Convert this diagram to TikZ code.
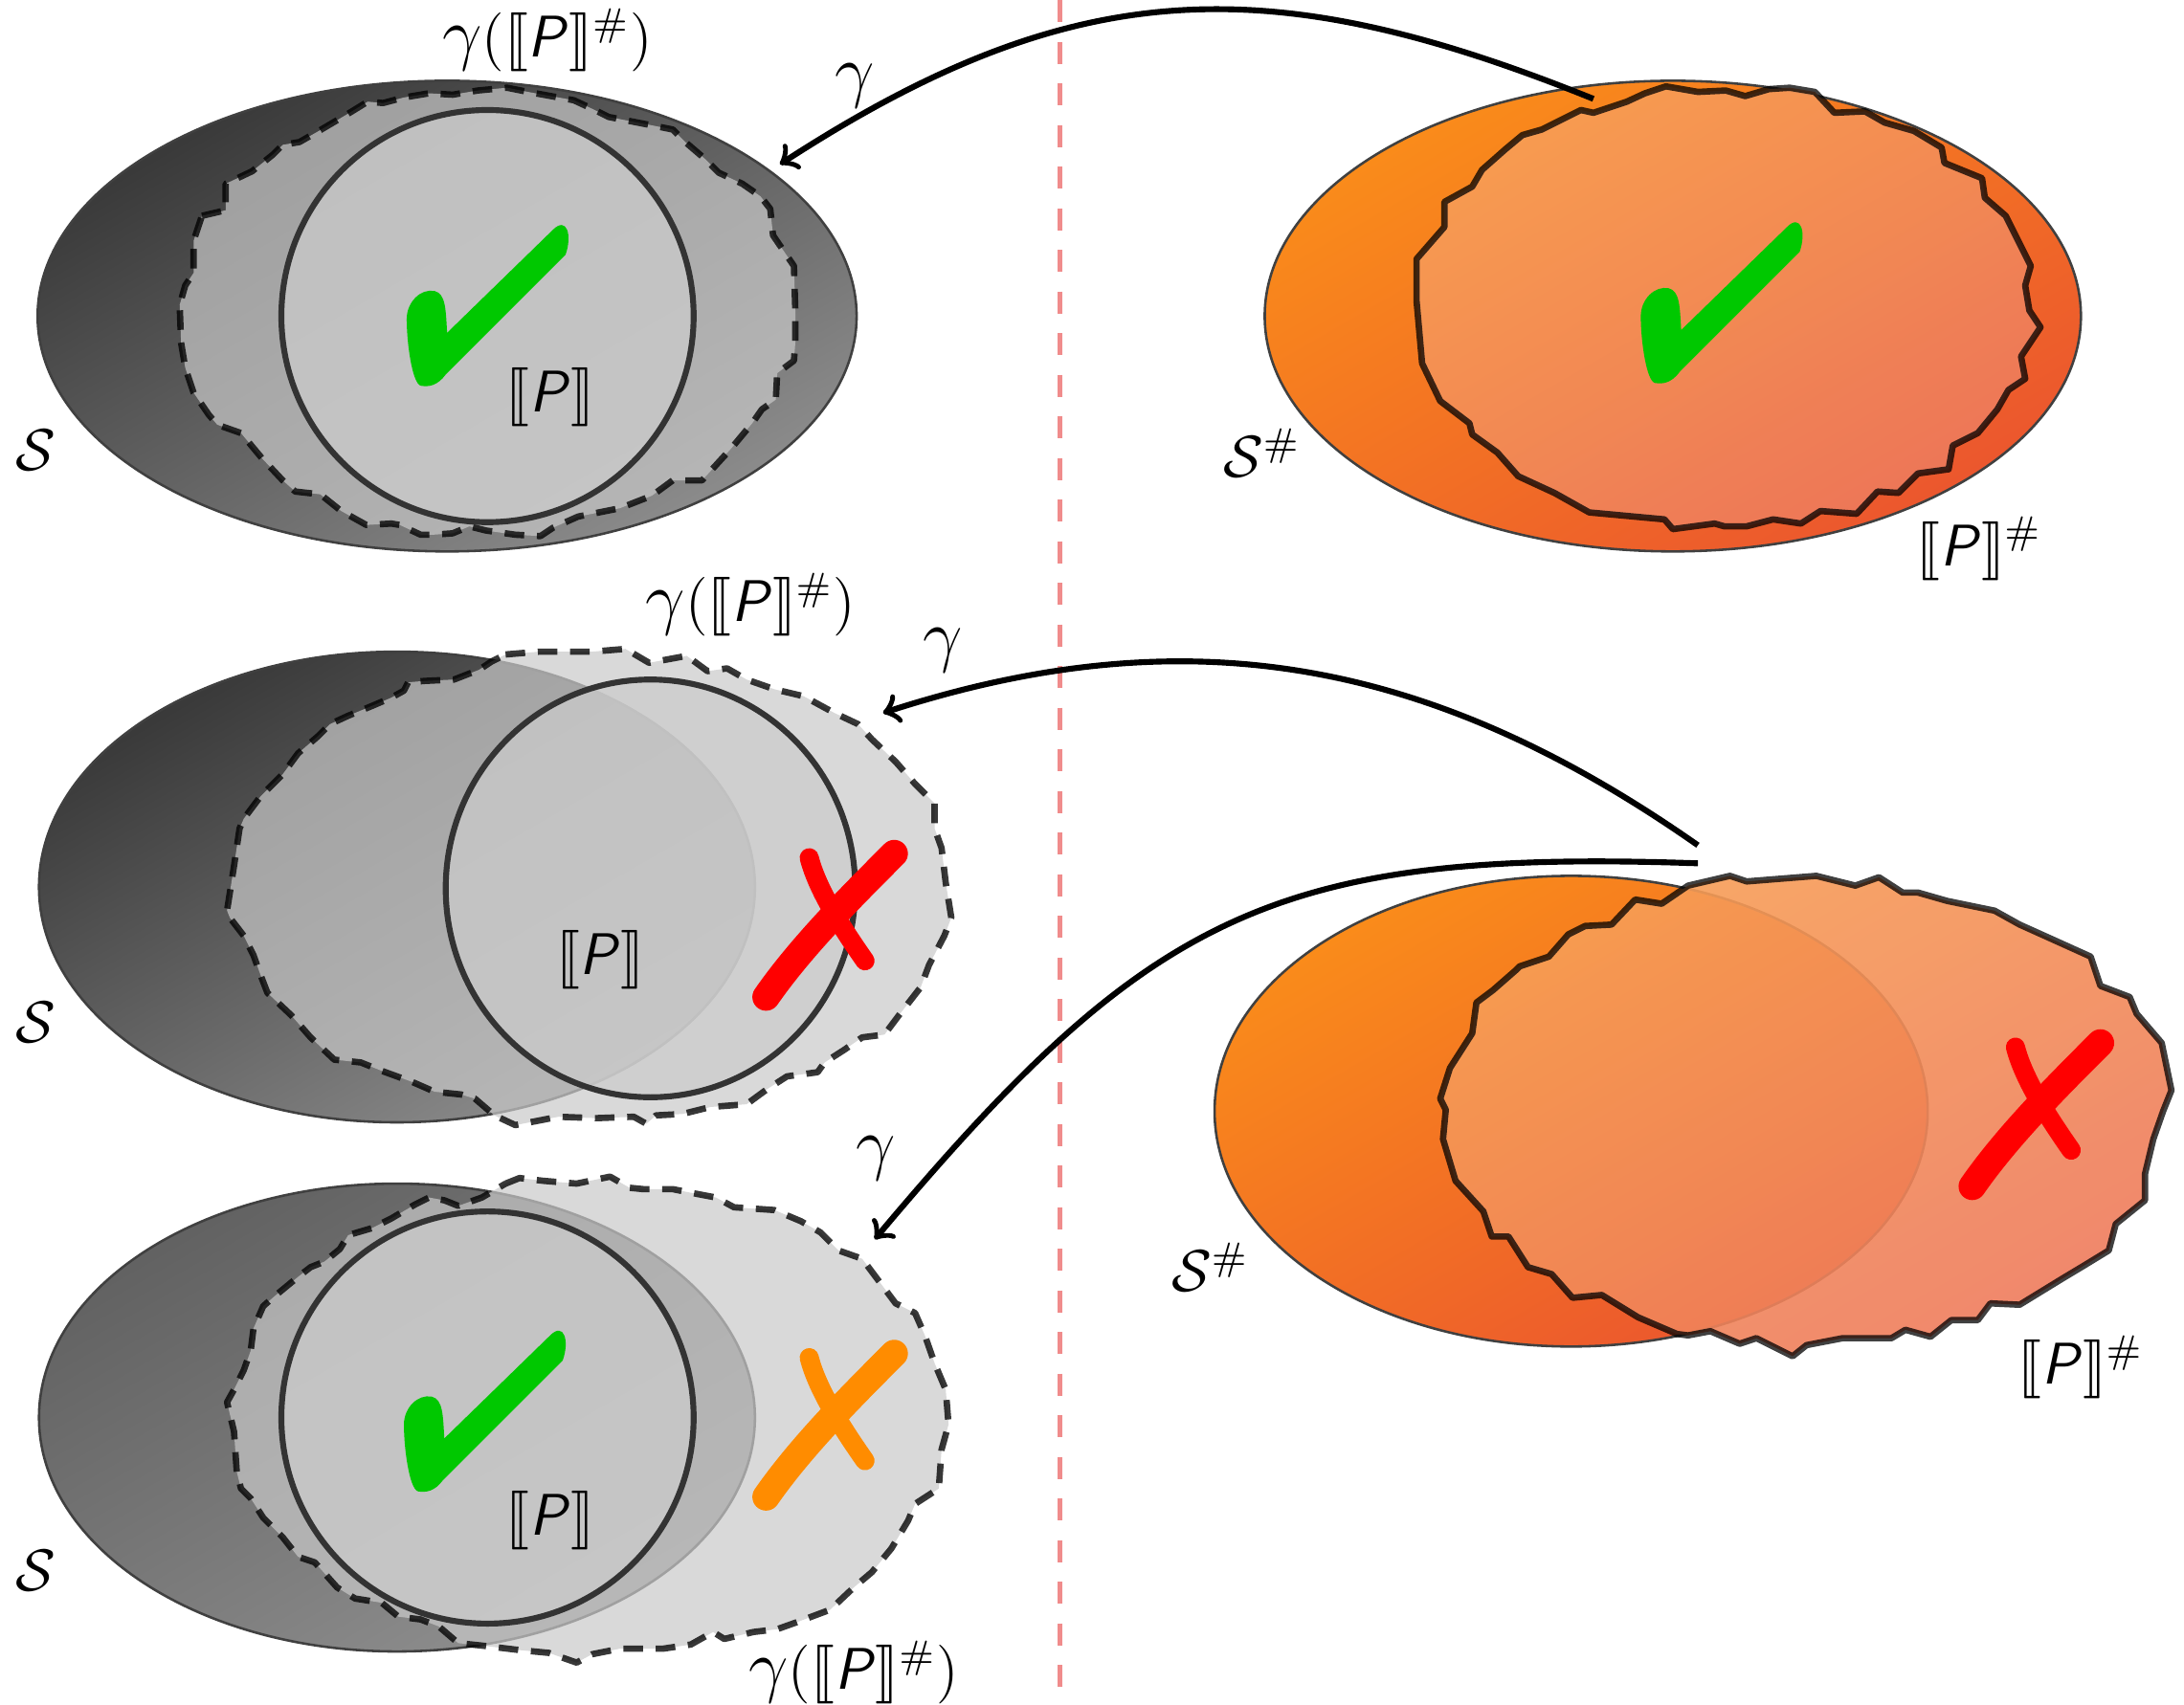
\documentclass[tikz,border=0pt]{standalone}
\usepackage{amsmath,amssymb}
\usepackage{stmaryrd}

\definecolor{tickgreen}{RGB}{0,200,0}
\definecolor{crossred}{RGB}{255,0,0}
\definecolor{crossorange}{RGB}{255,140,0}
\definecolor{absdark}{RGB}{250,140,26}
\definecolor{absred}{RGB}{235,86,46}
\definecolor{semlight}{RGB}{247,158,86}
\definecolor{semred}{RGB}{238,122,92}
\definecolor{divred}{RGB}{240,140,140}

\newcommand{\sem}[1]{\llbracket\textsf{\textit{#1}}\rrbracket}
\newcommand{\gam}{\text{\Large$\gamma$}}

\tikzset{
  concrete/.style={draw=black!75, line width=0.5pt, top color=black!78, bottom color=black!45, shading angle=30},
  abstract/.style={draw=black!75, line width=0.5pt, top color=absdark, bottom color=absred, shading angle=30},
  gammaset/.style={draw=black, draw opacity=0.78, fill=black!21, fill opacity=0.7, line width=1.3pt, dash pattern=on 4pt off 2.6pt, line join=round},
  semset/.style={draw=black!80, line width=1.2pt, fill=black!20, fill opacity=0.73},
  abssem/.style={draw=black, draw opacity=0.75, line width=1.3pt, top color=semlight, bottom color=semred, shading angle=30, fill opacity=0.9, line join=round},
  gammaarrow/.style={->, line width=1.2pt},
  divider/.style={divred, line width=1pt, dash pattern=on 4.5pt off 4pt},
  lbl/.style={font=\large, inner sep=0pt},
  okmark/.pic={
    \fill[tickgreen] (0,0) .. controls (-6,-2) and (-10,-30) .. (-10,-48)
      .. controls (-10,-60) and (0,-70) .. (10,-68)
      .. controls (18,-66) and (18,-55) .. (19,-38)
      -- (95,-112)
      .. controls (105,-122) and (109,-108) .. (104,-94)
      -- (18,-8)
      .. controls (12,0) and (6,1) .. cycle;
  },
  badmark/.pic={
    \draw[#1, line width=5.6pt, line cap=round] (-49,66) .. controls (-24,30) and (12,-6) .. (43,-37);
    \draw[#1, line width=3.9pt, line cap=round] (-18,-34) .. controls (-12,-10) and (8,20) .. (22,40);
  }
}

\begin{document}
\begin{tikzpicture}[x=0.01cm, y=-0.01cm]
\useasboundingbox (0,0) rectangle (1568,1224);

% concrete side | abstract side
\draw[divider] (761,0) -- (761,1224);

%%% top row
\draw[concrete] (321,227) ellipse (294 and 169);
\draw[gammaset] (145,155) -- (162,151) -- (162,132) -- (181,123) -- (196,111) -- (203,104) -- (215,102) -- (229,94)
  -- (251,81) -- (264,73) -- (275,74) -- (290,70) -- (308,67) -- (325,68) -- (343,65) -- (364,63) -- (379,66)
  -- (412,72) -- (427,79) -- (437,84) -- (468,90) -- (483,93) -- (492,102) -- (506,114) -- (516,124) -- (533,132)
  -- (546,141) -- (553,150) -- (555,169) -- (570,191) -- (571,223) -- (571,246) -- (570,259) -- (558,268)
  -- (557,287) -- (547,294) -- (540,304) -- (525,322) -- (504,345) -- (483,345) -- (468,356) -- (445,365)
  -- (415,371) -- (397,379) -- (388,385) -- (370,384) -- (349,381) -- (337,378) -- (325,383) -- (311,384)
  -- (302,384) -- (287,377) -- (281,376) -- (263,377) -- (245,367) -- (230,355) -- (212,353) -- (203,345)
  -- (188,329) -- (173,311) -- (156,305) -- (150,298) -- (139,282) -- (133,264) -- (130,246) -- (129,219)
  -- (133,205) -- (139,196) -- (139,173) -- cycle;
\draw[semset] (350,227) circle (148);
\pic at (302,277) {okmark};

\draw[abstract] (1201,227) ellipse (293 and 169);
\draw[abssem] (1196,62) -- (1219,66) -- (1239,65) -- (1253,69) -- (1270,64) -- (1285,63) -- (1303,66) -- (1317,81)
  -- (1339,80) -- (1353,88) -- (1374,94) -- (1394,106) -- (1396,117) -- (1423,128) -- (1425,142) -- (1440,155)
  -- (1458,191) -- (1454,205) -- (1457,223) -- (1465,235) -- (1451,256) -- (1454,272) -- (1442,280) -- (1434,294)
  -- (1420,311) -- (1402,320) -- (1399,337) -- (1377,340) -- (1363,354) -- (1348,353) -- (1333,369) -- (1307,367)
  -- (1293,376) -- (1273,373) -- (1254,378) -- (1238,378) -- (1231,376) -- (1201,380) -- (1195,373) -- (1141,368)
  -- (1116,354) -- (1090,342) -- (1075,325) -- (1057,312) -- (1055,304) -- (1034,288) -- (1021,261) -- (1017,216)
  -- (1017,186) -- (1037,163) -- (1037,145) -- (1057,134) -- (1064,122) -- (1081,107) -- (1093,97) -- (1107,93)
  -- (1135,79) -- (1144,81) -- (1168,73) -- (1181,67) -- cycle;
\pic at (1188,275) {okmark};

\node[lbl] (gtop) at (393,29) {$\gam(\sem{P}^{\#})$};
\node[lbl] (stop) at (26,323) {$\mathcal{S}$};
\node[lbl] (ptop) at (395,285) {$\sem{P}$};
\node[lbl] (satop) at (906,325) {$\mathcal{S}^{\#}$};
\node[lbl] (patop) at (1421,394) {$\sem{P}^{\#}$};

%%% middle row
\draw[concrete] (285,637) ellipse (257 and 169);
\draw[gammaset] (363,470) -- (387,468) -- (425,468) -- (449,466) -- (466,476) -- (493,471) -- (508,482) -- (522,480)
  -- (536,488) -- (556,495) -- (577,500) -- (599,512) -- (616,520) -- (626,531) -- (643,547) -- (657,563)
  -- (671,577) -- (671,595) -- (676,609) -- (679,634) -- (683,659) -- (678,672) -- (667,693) -- (661,709)
  -- (647,727) -- (635,743) -- (619,745) -- (606,754) -- (592,763) -- (587,770) -- (565,773) -- (551,782)
  -- (536,793) -- (510,795) -- (490,800) -- (471,801) -- (464,807) -- (455,802) -- (428,803) -- (401,802)
  -- (370,808) -- (355,801) -- (341,789) -- (331,786) -- (312,784) -- (296,777) -- (274,769) -- (259,763)
  -- (240,761) -- (223,745) -- (209,729) -- (192,713) -- (187,700) -- (182,686) -- (175,672) -- (165,659)
  -- (163,654) -- (168,622) -- (172,595) -- (175,588) -- (187,572) -- (203,556) -- (214,541) -- (228,529)
  -- (237,520) -- (250,514) -- (267,507) -- (281,501) -- (290,496) -- (293,490) -- (305,489) -- (326,488)
  -- (344,481) -- (353,475) -- cycle;
\draw[semset] (467,638) ellipse (147 and 150);
\pic at (599,650) {badmark=crossred};

\draw[abstract] (1128,798) ellipse (256 and 169);
\draw[abssem] (1212,636) -- (1242,629) -- (1254,633) -- (1304,629) -- (1332,636) -- (1349,630) -- (1366,641)
  -- (1377,641) -- (1398,647) -- (1432,654) -- (1450,664) -- (1470,673) -- (1501,687) -- (1508,708) -- (1529,716)
  -- (1534,728) -- (1552,749) -- (1559,783) -- (1553,798) -- (1546,818) -- (1540,843) -- (1540,862) -- (1519,879)
  -- (1514,898) -- (1496,909) -- (1481,918) -- (1450,937) -- (1429,936) -- (1420,948) -- (1401,948) -- (1386,960)
  -- (1368,955) -- (1358,961) -- (1323,961) -- (1297,966) -- (1287,974) -- (1261,961) -- (1249,965) -- (1228,956)
  -- (1212,959) -- (1204,958) -- (1176,946) -- (1150,930) -- (1129,932) -- (1114,915) -- (1097,910) -- (1083,888)
  -- (1071,888) -- (1065,870) -- (1045,848) -- (1036,818) -- (1038,797) -- (1034,789) -- (1041,767) -- (1057,742)
  -- (1060,720) -- (1072,711) -- (1088,697) -- (1091,694) -- (1112,687) -- (1126,671) -- (1138,665) -- (1157,664)
  -- (1174,646) -- (1193,649) -- cycle;
\pic at (1465,786) {badmark=crossred};

\node[lbl] (gmid) at (539,434) {$\gam(\sem{P}^{\#})$};
\node[lbl] (smid) at (26,734) {$\mathcal{S}$};
\node[lbl] (pmid) at (431,689) {$\sem{P}$};
\node[lbl] (samid) at (869,910) {$\mathcal{S}^{\#}$};
\node[lbl] (pamid) at (1494,982) {$\sem{P}^{\#}$};

%%% bottom row
\draw[concrete, top color=black!62, bottom color=black!44, shading angle=30] (285,1018) ellipse (257 and 168);
\draw[gammaset] (363,850) -- (373,846) -- (390,848) -- (414,850) -- (438,845) -- (452,853) -- (462,854) -- (483,854)
  -- (493,856) -- (514,860) -- (527,867) -- (556,869) -- (575,877) -- (589,885) -- (602,898) -- (619,904)
  -- (631,920) -- (643,936) -- (657,943) -- (664,959) -- (671,979) -- (679,998) -- (681,1023) -- (676,1041)
  -- (674,1069) -- (657,1080) -- (652,1092) -- (640,1112) -- (626,1129) -- (613,1140) -- (596,1156) -- (572,1165)
  -- (558,1170) -- (541,1172) -- (520,1177) -- (512,1172) -- (496,1181) -- (476,1184) -- (445,1184) -- (425,1188)
  -- (414,1194) -- (394,1187) -- (373,1185) -- (348,1182) -- (329,1180) -- (315,1168) -- (302,1163) -- (286,1161)
  -- (274,1151) -- (255,1148) -- (242,1140) -- (226,1122) -- (214,1118) -- (203,1104) -- (189,1090) -- (180,1076)
  -- (173,1069) -- (170,1057) -- (168,1028) -- (163,1007) -- (168,998) -- (175,984) -- (180,970) -- (182,954)
  -- (189,938) -- (197,931) -- (214,917) -- (223,910) -- (233,906) -- (244,897) -- (250,887) -- (267,882)
  -- (281,875) -- (298,865) -- (308,860) -- (319,862) -- (329,866) -- (346,860) -- cycle;
\draw[semset] (350,1018) circle (148);
\pic at (300,1071) {okmark};
\pic at (599,1009) {badmark=crossorange};

\node[lbl] (gbot) at (613,1201) {$\gam(\sem{P}^{\#})$};
\node[lbl] (sbot) at (26,1128) {$\mathcal{S}$};
\node[lbl] (pbot) at (395,1092) {$\sem{P}$};

%%% gamma maps
\coordinate (g1s) at (1144,71);
\coordinate (g1e) at (560,118);
\coordinate (g2s) at (1219,607);
\coordinate (g2e) at (634,512);
\coordinate (g3s) at (1219,620);
\coordinate (g3e) at (628,890);
\draw[gammaarrow] (g1s) to[out=158, in=33, looseness=1.1] (g1e);
\draw[gammaarrow] (g2s) to[out=145, in=18] (g2e);
\draw[gammaarrow] (g3s) to[out=178, in=50, looseness=1.2] (g3e);
\node[lbl] (ga1) at (614,62) {$\gam$};
\node[lbl] (ga2) at (677,467) {$\gam$};
\node[lbl] (ga3) at (629,832) {$\gam$};
\end{tikzpicture}
\end{document}
